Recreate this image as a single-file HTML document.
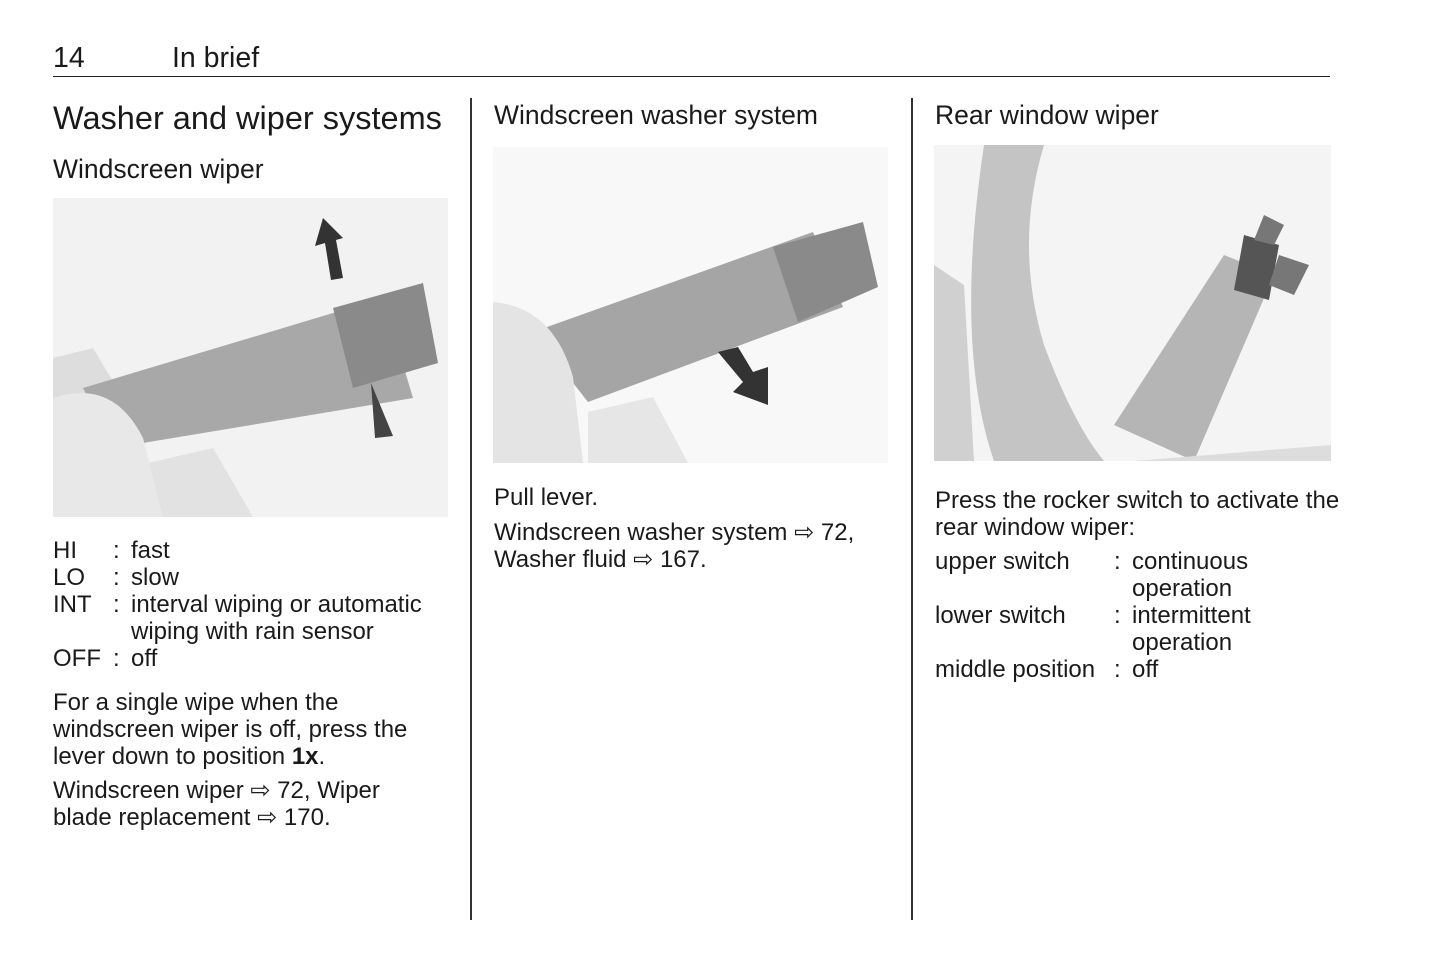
<!DOCTYPE html>
<html><head><meta charset="utf-8"><style>
body{margin:0;width:1445px;height:965px;background:#fff;font-family:"Liberation Sans",sans-serif;color:#1a1a1a;position:relative;overflow:hidden}
.a{position:absolute;white-space:nowrap}
.b{font-size:24px;line-height:27px}
svg{position:absolute}
</style></head><body>
<div class="a" style="left:53px;top:42px;font-size:28.5px">14</div>
<div class="a" style="left:172px;top:42px;font-size:28.5px">In brief</div>
<div class="a" style="left:53px;top:76px;width:1277px;height:1px;background:#222"></div>
<div class="a" style="left:470px;top:98px;width:2px;height:822px;background:#333"></div>
<div class="a" style="left:911px;top:98px;width:2px;height:822px;background:#333"></div>

<div class="a" style="left:53px;top:100px;font-size:32.5px">Washer and wiper systems</div>
<div class="a" style="left:53px;top:154px;font-size:26.5px">Windscreen wiper</div>
<svg style="left:53px;top:198px" width="395" height="319" viewBox="0 0 395 319">
<rect width="395" height="319" fill="#f2f2f2"/>
<path d="M0 160 L40 150 L70 200 L0 220Z" fill="#ddd"/>
<path d="M30 190 L330 100 L360 200 L60 250Z" fill="#a8a8a8"/>
<path d="M280 110 L370 85 L385 165 L300 190Z" fill="#8a8a8a"/>
<path d="M95 265 L160 250 L200 319 L95 319Z" fill="#e2e2e2"/>
<path d="M0 200 Q60 180 90 240 L110 319 L0 319Z" fill="#e8e8e8"/>
<path d="M270 20 L290 40 L283 42 L290 80 L278 82 L272 45 L262 48Z" fill="#333"/>
<path d="M318 185 L340 238 L322 240Z" fill="#444"/>
</svg>
<div class="a b" style="left:53px;top:537px">HI</div><div class="a b" style="left:113px;top:537px">:</div><div class="a b" style="left:131px;top:537px">fast</div>
<div class="a b" style="left:53px;top:564px">LO</div><div class="a b" style="left:113px;top:564px">:</div><div class="a b" style="left:131px;top:564px">slow</div>
<div class="a b" style="left:53px;top:591px">INT</div><div class="a b" style="left:113px;top:591px">:</div><div class="a b" style="left:131px;top:591px">interval wiping or automatic<br>wiping with rain sensor</div>
<div class="a b" style="left:53px;top:645px">OFF</div><div class="a b" style="left:113px;top:645px">:</div><div class="a b" style="left:131px;top:645px">off</div>
<div class="a b" style="left:53px;top:689px">For a single wipe when the<br>windscreen wiper is off, press the<br>lever down to position <b>1x</b>.</div>
<div class="a b" style="left:53px;top:777px">Windscreen wiper ⇨ 72, Wiper<br>blade replacement ⇨ 170.</div>

<div class="a" style="left:494px;top:100px;font-size:26.5px">Windscreen washer system</div>
<svg style="left:493px;top:147px" width="395" height="316" viewBox="0 0 395 316">
<rect width="395" height="316" fill="#f8f8f8"/>
<path d="M40 185 L320 85 L350 160 L95 255Z" fill="#a5a5a5"/>
<path d="M280 100 L370 75 L385 140 L305 175Z" fill="#8a8a8a"/>
<path d="M0 155 Q60 160 80 230 L90 316 L0 316Z" fill="#e4e4e4"/>
<path d="M95 265 L160 250 L195 316 L95 316Z" fill="#e6e6e6"/>
<path d="M225 205 L245 200 L260 225 L275 220 L275 258 L240 245 L250 235Z" fill="#333"/>
</svg>
<div class="a b" style="left:494px;top:484px">Pull lever.</div>
<div class="a b" style="left:494px;top:519px">Windscreen washer system ⇨ 72,<br>Washer fluid ⇨ 167.</div>

<div class="a" style="left:935px;top:100px;font-size:26.5px">Rear window wiper</div>
<svg style="left:934px;top:145px" width="397" height="316" viewBox="0 0 397 316">
<rect width="397" height="316" fill="#f4f4f4"/>
<path d="M50 0 L110 0 Q80 100 110 200 Q140 280 170 316 L60 316 Q20 200 50 0Z" fill="#c4c4c4"/>
<path d="M0 120 L30 140 L40 316 L0 316Z" fill="#d0d0d0"/>
<path d="M180 280 L290 110 L340 130 L260 316 Z" fill="#b5b5b5"/>
<path d="M310 90 L345 100 L335 155 L300 145Z" fill="#555"/>
<path d="M330 70 L350 80 L340 100 L320 95Z" fill="#777"/>
<path d="M345 110 L375 120 L360 150 L335 140Z" fill="#777"/>
<path d="M200 316 L397 300 L397 316Z" fill="#ddd"/>
</svg>
<div class="a b" style="left:935px;top:487px">Press the rocker switch to activate the<br>rear window wiper:</div>
<div class="a b" style="left:935px;top:548px">upper switch</div><div class="a b" style="left:1114px;top:548px">:</div><div class="a b" style="left:1132px;top:548px">continuous<br>operation</div>
<div class="a b" style="left:935px;top:602px">lower switch</div><div class="a b" style="left:1114px;top:602px">:</div><div class="a b" style="left:1132px;top:602px">intermittent<br>operation</div>
<div class="a b" style="left:935px;top:656px">middle position</div><div class="a b" style="left:1114px;top:656px">:</div><div class="a b" style="left:1132px;top:656px">off</div>
</body></html>
